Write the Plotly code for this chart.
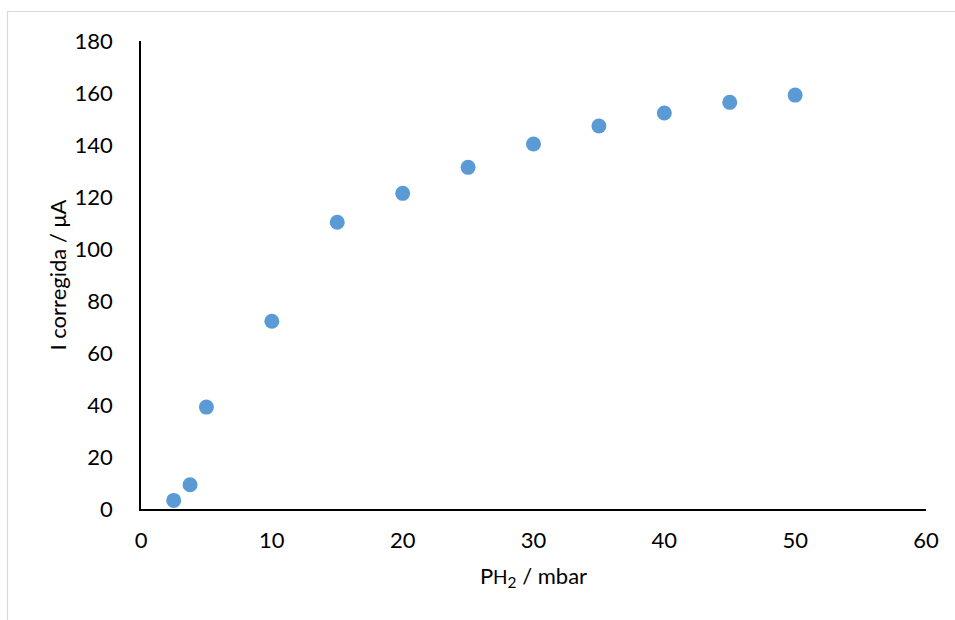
import plotly.graph_objects as go

pressure_mbar = [2.5, 3.75, 5, 10, 15, 20, 25, 30, 35, 40, 45, 50]
current_uA = [3.3, 9.3, 39.2, 72.2, 110.3, 121.4, 131.4, 140.4, 147.3, 152.3, 156.4, 159.2]

x_ticks = [0, 10, 20, 30, 40, 50, 60]
y_ticks = [0, 20, 40, 60, 80, 100, 120, 140, 160, 180]

FONT = "Lato, Carlito, Calibri, sans-serif"

fig = go.Figure()
fig.add_trace(go.Scatter(
    x=pressure_mbar, y=current_uA, mode="markers",
    marker=dict(size=15, color="#5B9BD5", line=dict(width=0)),
    showlegend=False, cliponaxis=False,
))

L, R, T, B = 141, 29, 41, 111
W, H = 955, 620
pw, ph = W - L - R, H - T - B

fig.update_layout(
    width=W, height=H,
    margin=dict(l=L, r=R, t=T, b=B),
    paper_bgcolor="white", plot_bgcolor="white",
    font=dict(family=FONT, size=22, color="black"),
    xaxis=dict(range=[0, 60], tickvals=x_ticks, showgrid=False, zeroline=False,
               showline=True, linecolor="black", linewidth=1.5, ticks="",
               ticklabelstandoff=11, tickfont=dict(size=22),
               title=dict(text="P<span style='font-size:19px'>H</span><sub>2</sub> / mbar",
                          standoff=16, font=dict(size=22))),
    yaxis=dict(range=[0, 180], tickvals=y_ticks, showgrid=False, zeroline=False,
               showline=True, linecolor="black", linewidth=1.5, ticks="",
               ticklabelstandoff=22, tickfont=dict(size=22),
               title=dict(text="I corregida / μA", standoff=2, font=dict(size=22))),
    shapes=[dict(type="rect", xref="paper", yref="paper",
                 x0=(7.5 - L) / pw, x1=(W + 20 - L) / pw,
                 y0=-(H + 20 - T - ph) / ph, y1=1 + (T - 11.5) / ph,
                 line=dict(color="#d9d9d9", width=1.2), layer="below")],
)

fig.write_html("out.html", config={"displayModeBar": False},
               post_script="document.body.style.margin='0';")
